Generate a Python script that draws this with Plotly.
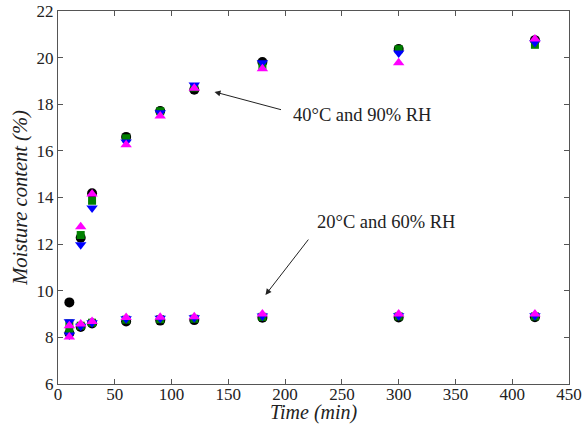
import plotly.graph_objects as go

time_min = [10, 20, 30, 60, 90, 120, 180, 300, 420]

# 40°C and 90% RH
hi_black = [8.18, 12.27, 14.18, 16.6, 17.71, 18.62, 19.81, 20.37, 20.75]
hi_green = [8.3, 12.39, 13.86, 16.54, 17.7, 18.72, 19.65, 20.36, 20.55]
hi_blue = [8.1, 11.97, 13.55, 16.38, 17.64, 18.83, 19.78, 20.2, 20.65]
hi_magenta = [8.02, 12.74, 14.15, 16.26, 17.5, 18.69, 19.52, 19.78, 20.8]

# 20°C and 60% RH
lo_black = [9.5, 8.45, 8.6, 8.68, 8.72, 8.74, 8.84, 8.85, 8.86]
lo_green = [8.6, 8.5, 8.63, 8.76, 8.78, 8.8, 8.88, 8.9, 8.9]
lo_blue = [8.67, 8.48, 8.63, 8.8, 8.82, 8.84, 8.92, 8.93, 8.93]
lo_magenta = [8.5, 8.57, 8.68, 8.85, 8.86, 8.88, 9.0, 9.0, 9.0]

series = [
    ("circle", "#000000", 10, hi_black, lo_black),
    ("square", "#008000", 8, hi_green, lo_green),
    ("triangle-down", "#0000FF", 10, hi_blue, lo_blue),
    ("triangle-up", "#FF00FF", 10, hi_magenta, lo_magenta),
]

x_ticks = [0, 50, 100, 150, 200, 250, 300, 350, 400, 450]
y_ticks = [6, 8, 10, 12, 14, 16, 18, 20, 22]

fig = go.Figure()
for sym, col, sz, hi, lo in series:
    for vals in (hi, lo):
        fig.add_trace(go.Scatter(
            x=time_min, y=vals, mode="markers",
            marker=dict(symbol=sym, color=col, size=sz, line=dict(width=0)),
            showlegend=False, cliponaxis=False))

font_serif = "Liberation Serif"
axis_common = dict(
    showline=True, linecolor="#555555", linewidth=1.3, mirror="ticks",
    ticks="inside", ticklen=5, tickcolor="#555555", tickwidth=1,
    showgrid=False, zeroline=False, automargin=False,
    tickfont=dict(family=font_serif, size=17, color="#222222"),
)

fig.update_layout(
    width=582, height=429,
    margin=dict(l=58, r=13, t=11, b=45),
    plot_bgcolor="white", paper_bgcolor="white",
    font=dict(family=font_serif),
    xaxis=dict(range=[0, 450], tickvals=x_ticks, ticklabelstandoff=-6,
               **axis_common),
    yaxis=dict(range=[6, 22], tickvals=y_ticks,
               title=dict(text="<i>Moisture content (%)</i>", standoff=3,
                          font=dict(family=font_serif, size=20.5, color="#222222")),
               **axis_common),
)

# x-axis title placed just under tick labels
fig.add_annotation(x=0.5, y=-0.076, xref="paper", yref="paper",
                   text="<i>Time (min)</i>", showarrow=False,
                   xanchor="center", yanchor="middle",
                   font=dict(family=font_serif, size=20, color="#222222"))

# Annotations: arrows
fig.add_annotation(x=137.8, y=18.53, ax=197.7, ay=17.75, axref="x", ayref="y",
                   xref="x", yref="y", text="", showarrow=True,
                   arrowhead=2, arrowsize=1.2, arrowwidth=1, arrowcolor="#222222")
fig.add_annotation(x=182.7, y=9.82, ax=221.5, ay=12.26, axref="x", ayref="y",
                   xref="x", yref="y", text="", showarrow=True,
                   arrowhead=2, arrowsize=1.2, arrowwidth=1, arrowcolor="#222222")
# Annotation texts
fig.add_annotation(x=205.6, y=17.55, xref="x", yref="y", text="40°C and 90% RH",
                   showarrow=False, xanchor="left", yanchor="middle",
                   font=dict(family=font_serif, size=18.5, color="#222222"))
fig.add_annotation(x=225.9, y=12.95, xref="x", yref="y", text="20°C and 60% RH",
                   showarrow=False, xanchor="left", yanchor="middle",
                   font=dict(family=font_serif, size=18.5, color="#222222"))

fig.write_html("out.html")
